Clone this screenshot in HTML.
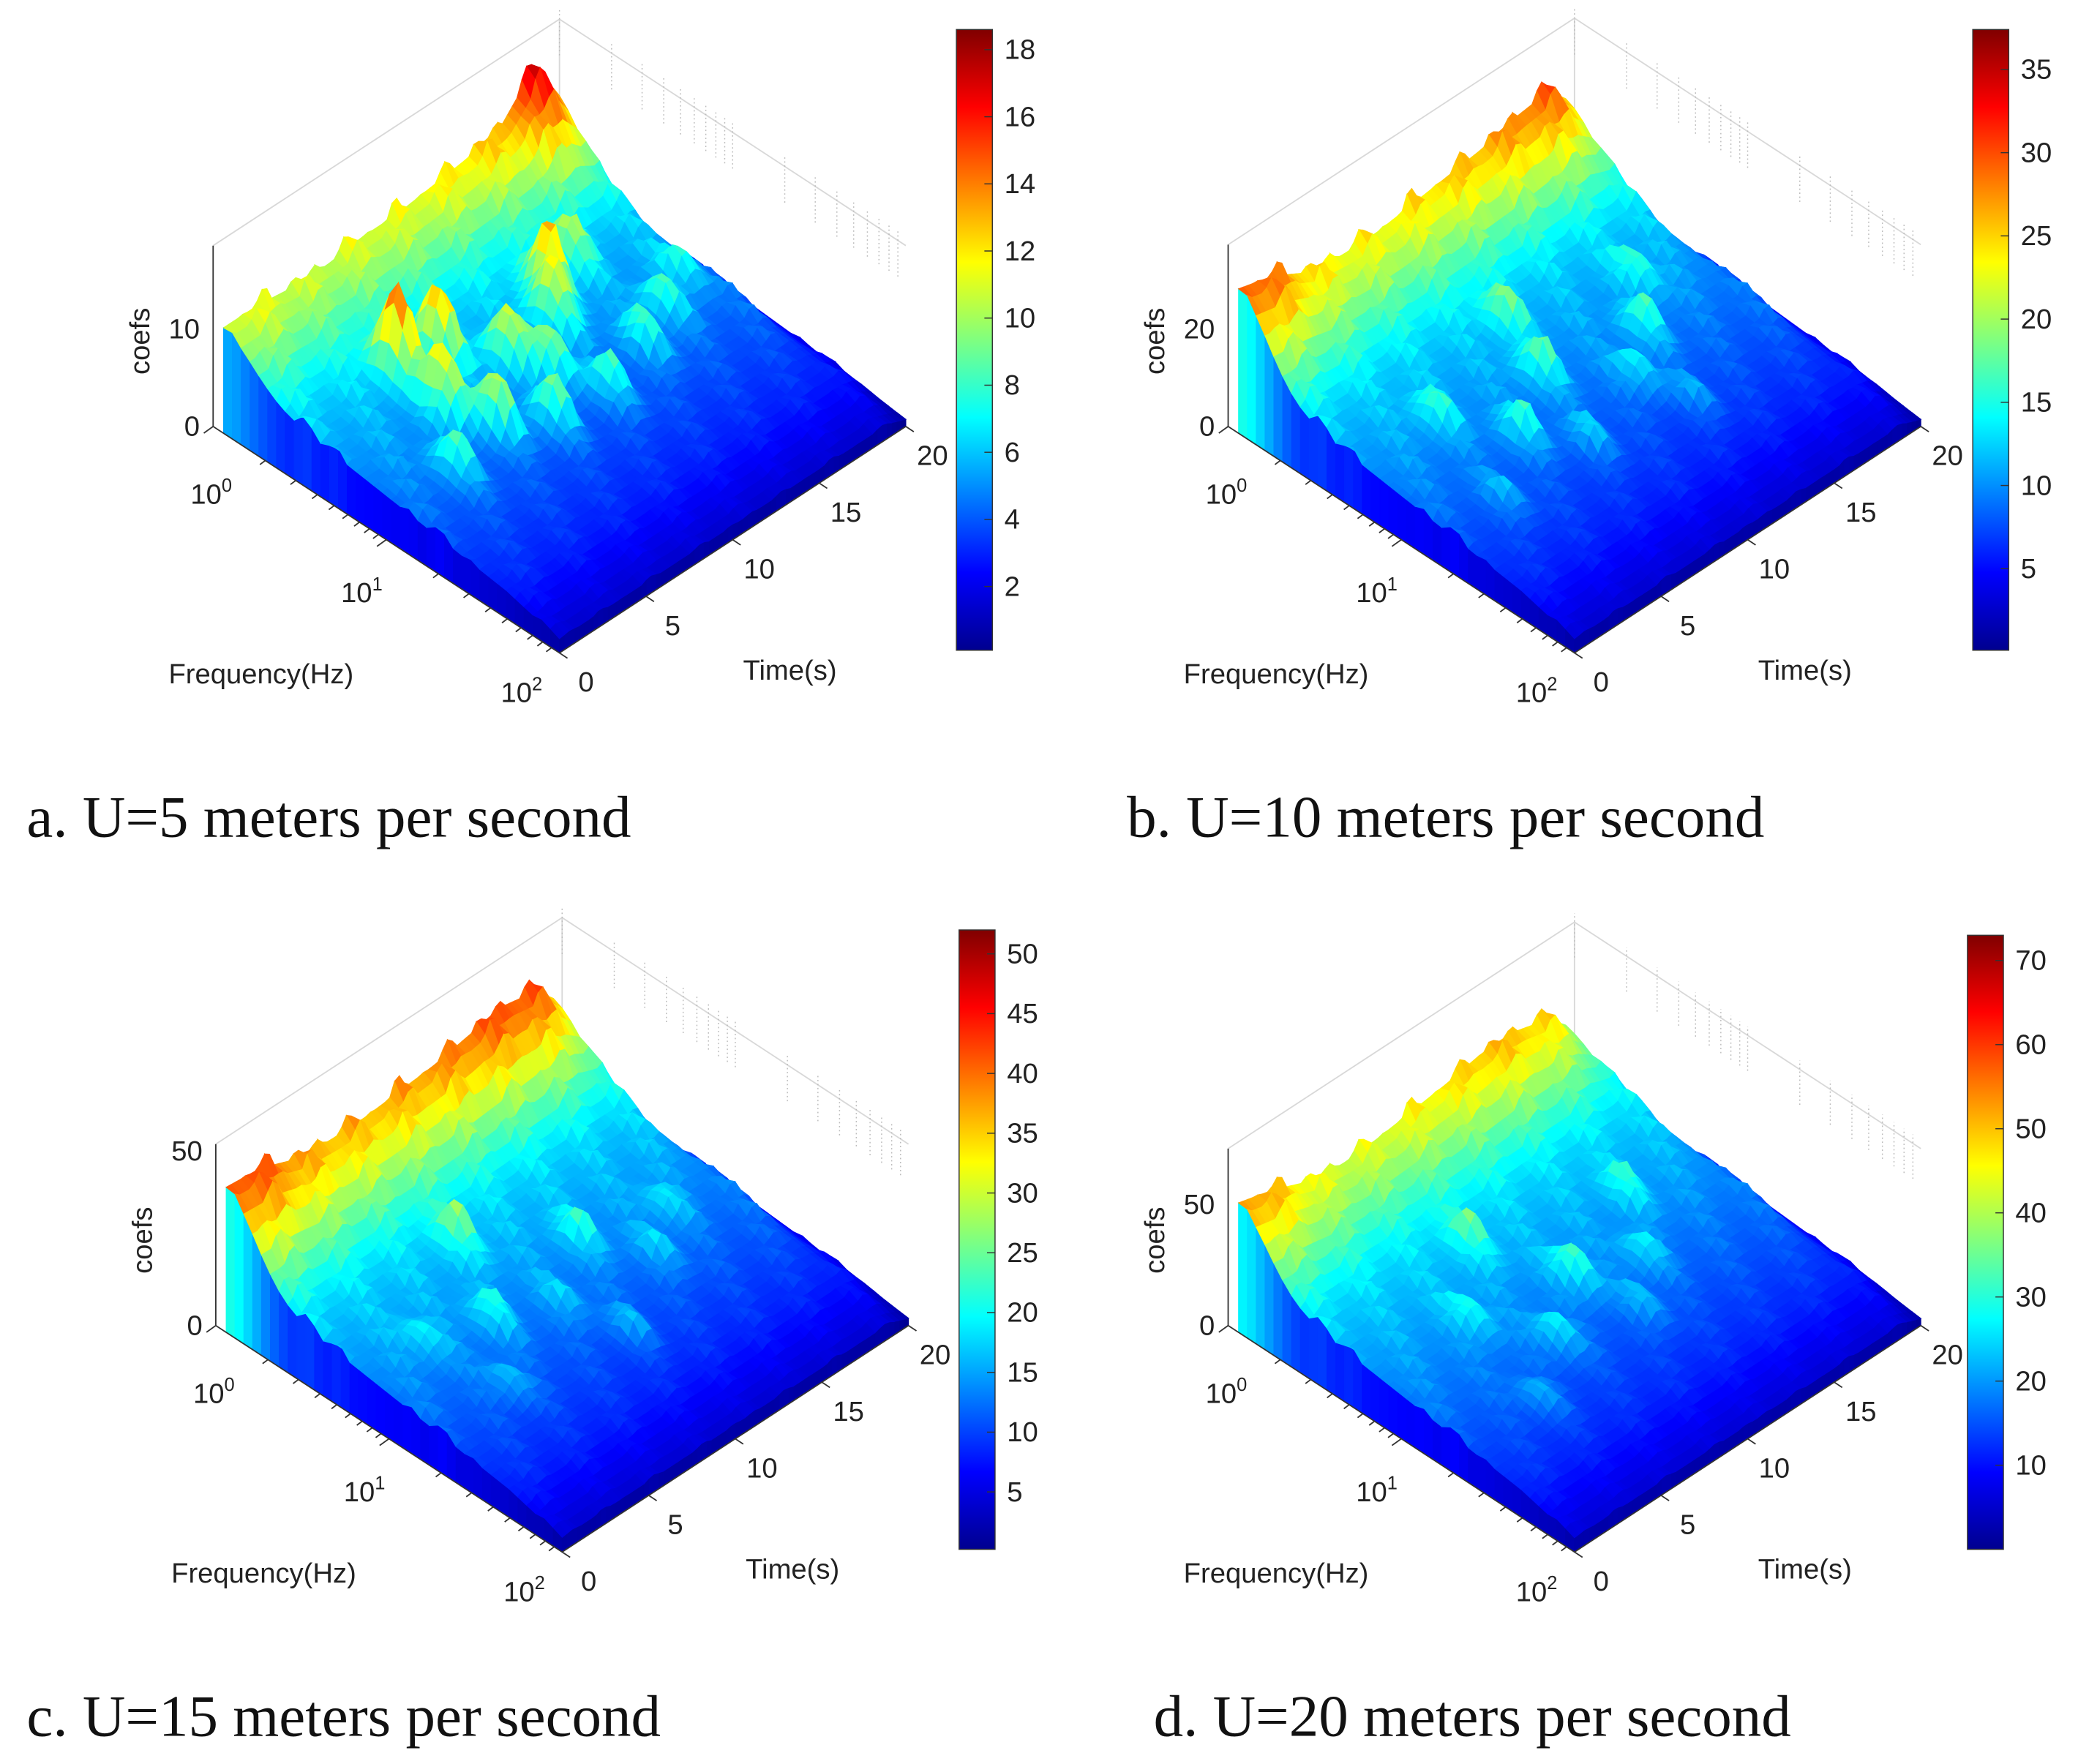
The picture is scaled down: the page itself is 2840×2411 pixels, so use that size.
<!DOCTYPE html>
<html><head><meta charset="utf-8"><style>
html,body{margin:0;padding:0;background:#fff;}
svg{display:block;}
.tk{font-family:"Liberation Sans",sans-serif;font-size:21px;fill:#222;}
.cap{font-family:"Liberation Serif",serif;font-size:44.5px;fill:#111;}
</style></head><body>
<svg id="fig" xmlns="http://www.w3.org/2000/svg" width="2840" height="2411" viewBox="0 0 1560 1324">
<defs>
<linearGradient id="jet" x1="0" y1="1" x2="0" y2="0">
<stop offset="0" stop-color="#00008f"/><stop offset="0.125" stop-color="#0000ff"/><stop offset="0.375" stop-color="#00ffff"/><stop offset="0.625" stop-color="#ffff00"/><stop offset="0.875" stop-color="#ff0000"/><stop offset="1" stop-color="#800000"/>
</linearGradient>
</defs>
<text class="cap" x="20" y="628">a. U=5 meters per second</text>
<text class="cap" x="846" y="628">b. U=10 meters per second</text>
<text class="cap" x="20" y="1303">c. U=15 meters per second</text>
<text class="cap" x="866" y="1303">d. U=20 meters per second</text>
</svg>
<script>
// ---- data ----
const ridgeTimes = [0,2,4,6,8,10,12,14,16,18,20];
const ridgeA = [4,4,3.5,3.5,4,4,4.5,5,6,10,3];
const ridgeB = [16,14,10,9,9,10,11,12,14,15,6];
const ridgeC = [22,21,17,16,16,17,18,20,22,20,8];
const ridgeD = [26,22,16,14,15,17,19,22,22,18,2];
const baseA = 7, baseB = 14, baseC = 20, baseD = 28;
const peaksA = [[5,0.72,9],[7,0.70,8],[5,0.58,7],[6,0.48,6],[9,0.6,6],[10,0.52,5],[12,0.62,6],[13,0.68,7],[15,0.72,5],[8,0.42,5],[3,0.45,4],[11,0.4,4],[16,0.5,4],[18,0.55,3],[14,0.45,4]];
const peaksB = [[9,0.55,8],[6,0.45,7],[12,0.42,6],[14,0.5,7],[16,0.62,6],[10,0.7,8],[4,0.6,6],[8,0.35,5],[13,0.3,4],[3,0.35,4]];
const peaksC = [[8,0.7,10],[6,0.5,8],[12,0.55,8],[14,0.42,6],[4,0.35,6],[10,0.3,6],[16,0.5,6],[9,0.45,5],[3,0.55,6]];
const peaksD = [[10,0.5,15],[7,0.4,12],[13,0.45,10],[8,0.7,12],[15,0.6,10],[5,0.55,10],[11,0.35,8],[4,0.3,8]];
const zTicksA = [0,10], zTicksB=[0,20], zTicksC=[0,50], zTicksD=[0,50];
const cbTicksA = [2,4,6,8,10,12,14,16,18];
const cbTicksB = [5,10,15,20,25,30,35];
const cbTicksC = [5,10,15,20,25,30,35,40,45,50];
const cbTicksD = [10,20,30,40,50,60,70];
const timeTicks = [0,5,10,15,20];

const NS="http://www.w3.org/2000/svg";
const svg=document.getElementById('fig');
function mk(tag,attrs,parent){const e=document.createElementNS(NS,tag);for(const k in attrs)e.setAttribute(k,attrs[k]);(parent||svg).appendChild(e);return e;}
function jet(v){v=Math.max(0,Math.min(1,v));
 const r=Math.max(0,Math.min(1,1.5-Math.abs(4*v-3))),g=Math.max(0,Math.min(1,1.5-Math.abs(4*v-2))),b=Math.max(0,Math.min(1,1.5-Math.abs(4*v-1)));
 return 'rgb('+Math.round(r*255)+','+Math.round(g*255)+','+Math.round(b*255)+')';}

const panels=[
 {id:'a',dx:0,dy:0,k:7.3,zmax:18.6,zmin:0.1,cbx:718,cby0:22,cby1:488,ridge:ridgeA,base:baseA,peaks:peaksA,ztk:zTicksA,cbt:cbTicksA,tex:1.3},
 {id:'b',dx:762,dy:0,k:3.65,zmax:37.4,zmin:0.1,cbx:1481,cby0:22,cby1:488,ridge:ridgeB,base:baseB,peaks:peaksB,ztk:zTicksB,cbt:cbTicksB,tex:2.6},
 {id:'c',dx:2,dy:675,k:2.62,zmax:52,zmin:0.2,cbx:720,cby0:698,cby1:1163,ridge:ridgeC,base:baseC,peaks:peaksC,ztk:zTicksC,cbt:cbTicksC,tex:3.5},
 {id:'d',dx:762,dy:675,k:1.82,zmax:73,zmin:0,cbx:1477,cby0:702,cby1:1163,ridge:ridgeD,base:baseD,peaks:peaksD,ztk:zTicksD,cbt:cbTicksD,tex:4.5}
];

function ridgeAt(r,t){const i=Math.min(r.length-2,Math.floor(t/2));const f=(t-ridgeTimes[i])/2;return r[i]*(1-f)+r[i+1]*f;}

panels.forEach(p=>{
 const g=mk('g',{});
 
 
 const F=[420+p.dx,490+p.dy],L=[160+p.dx,320+p.dy],R=[680+p.dx,320+p.dy];
 const P=(t,u,z)=>[F[0]+t/20*(R[0]-F[0])+u*(L[0]-F[0]), F[1]+t/20*(R[1]-F[1])+u*(L[1]-F[1])-z*p.k];
 const topZ=p.zmax;
 const B0=P(20,1,0),Bt=P(20,1,topZ),Lt=P(0,1,topZ),Rt=P(20,0,topZ);
 const box=mk('path',{d:`M${Lt} L${Bt} L${Rt} M${B0} L${Bt}`,stroke:'#d8d8d8','stroke-width':1,fill:'none'},g);
 
 for(let d=0;d<2;d++)for(let m=1;m<10;m++){const u=1-Math.log10(m*Math.pow(10,d))/2;if(u<0)continue;
  const a=P(20,u,0),b=P(20,u,topZ*1.05);
  const ln=mk('line',{x1:a[0],y1:b[1]+(topZ*p.k*0.25),x2:b[0],y2:b[1],stroke:'#bbb','stroke-width':0.8,'stroke-dasharray':'1,2'},g);
  }
 const nt=72,nu=38,umax=0.97;
 const Z=(t,u)=>{let z=p.base*(0.3+0.7*u)+ridgeAt(p.ridge,t)*Math.exp(-Math.pow((umax-u)/0.12,2));
  p.peaks.forEach(q=>{z+=q[2]*Math.exp(-Math.pow((t-q[0])/0.65,2)-Math.pow((u-q[1])/0.06,2));});
  z+=p.tex*(0.4+u)*Math.max(0,Math.sin(t*3.3+u*23)*Math.sin(u*41+t*0.9));
  z*=Math.min(1,(u+0.35)/0.5);
  if(t>19)z*=1-(t-19)*0.5;
  return Math.max(0,z);};
 const grid=[];for(let i=0;i<=nt;i++){grid[i]=[];for(let j=0;j<=nu;j++){const t=20*i/nt,u=umax*j/nu;grid[i][j]=Z(t,u);}}
 const quads=[];for(let i=0;i<nt;i++)for(let j=0;j<nu;j++)quads.push([i,j]);
 quads.sort((a,b)=>(b[0]/nt+b[1]/nu*umax)-(a[0]/nt+a[1]/nu*umax));
 const sg=mk('g',{},g);
 const cz=z=>jet((z-p.zmin)/(p.zmax-p.zmin));
 for(let j=nu-1;j>=0;j--){const u0=umax*j/nu,u1=umax*(j+1)/nu;const a=P(0,u0,grid[0][j]),b=P(0,u1,grid[0][j+1]),c=P(0,u1,0),d=P(0,u0,0);
  const col=cz((grid[0][j]+grid[0][j+1])/4);
  mk('polygon',{points:`${a} ${b} ${c} ${d}`,fill:col,stroke:col,'stroke-width':0.6},sg);}
 for(let i=nt-1;i>=0;i--){const t0=20*i/nt,t1=20*(i+1)/nt;const a=P(t0,0,grid[i][0]),b=P(t1,0,grid[i+1][0]),c=P(t1,0,0),d=P(t0,0,0);
  const col=cz((grid[i][0]+grid[i+1][0])/4);
  mk('polygon',{points:`${a} ${b} ${c} ${d}`,fill:col,stroke:col,'stroke-width':0.6},sg);}
 quads.forEach(([i,j])=>{
  const t0=20*i/nt,t1=20*(i+1)/nt,u0=umax*j/nu,u1=umax*(j+1)/nu;
  const z00=grid[i][j],z10=grid[i+1][j],z11=grid[i+1][j+1],z01=grid[i][j+1];
  const c=cz((z00+z10+z11+z01)/4);
  mk('polygon',{points:`${P(t0,u0,z00)} ${P(t1,u0,z10)} ${P(t1,u1,z11)} ${P(t0,u1,z01)}`,fill:c,stroke:c,'stroke-width':0.6},sg);
 });
 const za=P(0,1,0),zb=P(0,1,topZ);
 const zl=mk('line',{x1:za[0],y1:za[1],x2:zb[0],y2:zb[1],stroke:'#333','stroke-width':1},g);
 
 p.ztk.forEach(v=>{const q=P(0,1,v);
  const tx=mk('text',{class:'tk',x:q[0]-10,y:q[1]+7,'text-anchor':'end'},g);tx.textContent=v;
  });
 const zt=mk('text',{class:'tk',x:0,y:0,transform:`translate(${112+p.dx},${(p.id==='a'||p.id==='b')?256:931})rotate(-90)`,'text-anchor':'middle'},g);
 zt.textContent='coefs';
 for(let d=0;d<2;d++)for(let m=1;m<10;m++){const u=1-Math.log10(m*Math.pow(10,d))/2;const a=P(0,u,0);
  mk('line',{x1:a[0],y1:a[1],x2:a[0]-(m===1?7:4),y2:a[1]+(m===1?5:3),stroke:'#333','stroke-width':1},g);}
 const fl=mk('line',{x1:L[0],y1:L[1],x2:F[0],y2:F[1],stroke:'#333','stroke-width':1},g);
 
 [[0,155,378],[1,268,452],[2,388,527]].forEach(([e,x,y])=>{const tx=mk('text',{class:'tk',x:x+p.dx-12,y:y+p.dy},g);
  tx.innerHTML='10<tspan dy="-9" font-size="14">'+e+'</tspan>';});
 const ft=mk('text',{class:'tk',x:196+p.dx,y:513+p.dy,'text-anchor':'middle'},g);ft.textContent='Frequency(Hz)';
 
 const tl=mk('line',{x1:F[0],y1:F[1],x2:R[0],y2:R[1],stroke:'#333','stroke-width':1},g);
 
 timeTicks.forEach(v=>{const a=P(v,0,0);mk('line',{x1:a[0],y1:a[1],x2:a[0]+6,y2:a[1]+4,stroke:'#333','stroke-width':1},g);
  const tx=mk('text',{class:'tk',x:a[0]+20,y:a[1]+29,'text-anchor':'middle'},g);tx.textContent=v;
  });
 const tt=mk('text',{class:'tk',x:593+p.dx,y:510+p.dy,'text-anchor':'middle'},g);tt.textContent='Time(s)';
 
 const cb=mk('rect',{x:p.cbx,y:p.cby0,width:27,height:p.cby1-p.cby0,fill:'url(#jet)',stroke:'#333','stroke-width':0.8},g);
 
 p.cbt.forEach(v=>{const y=p.cby1-(v-p.zmin)/(p.zmax-p.zmin)*(p.cby1-p.cby0);
  mk('line',{x1:p.cbx+21,y1:y,x2:p.cbx+27,y2:y,stroke:'#333','stroke-width':0.8},g);
  const tx=mk('text',{class:'tk',x:p.cbx+36,y:y+7},g);tx.textContent=v;
  });
});
</script>
</body></html>
